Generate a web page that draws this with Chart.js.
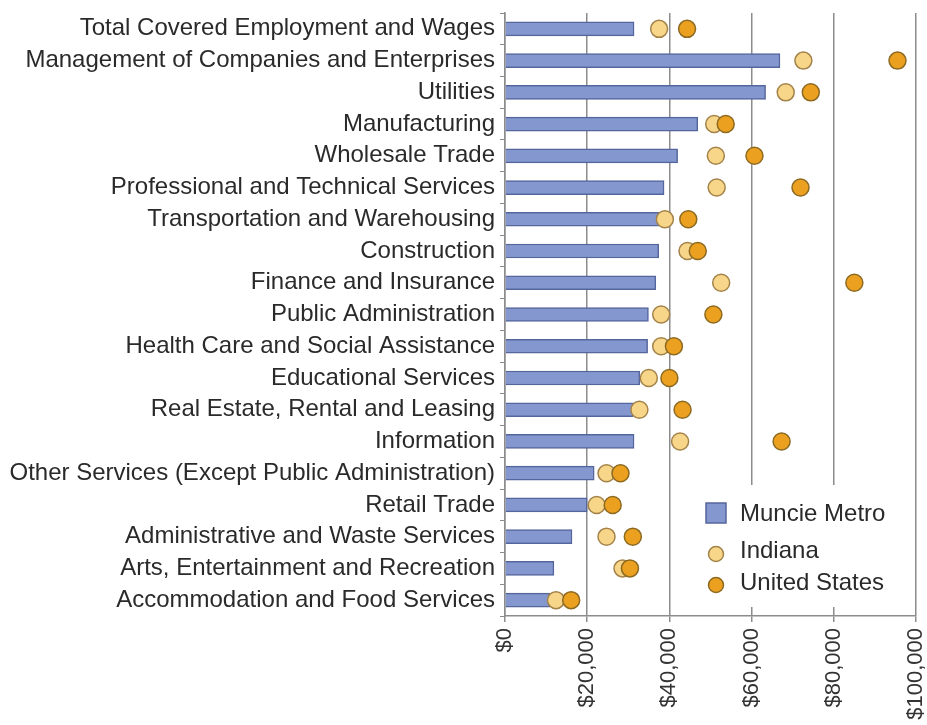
<!DOCTYPE html>
<html>
<head>
<meta charset="utf-8">
<script src="https://cdn.jsdelivr.net/npm/chart.js@4.4.1/dist/chart.umd.min.js"></script>
<style>
  html, body { margin: 0; padding: 0; background: #ffffff; }
  #wrap { position: relative; width: 927px; height: 725px; }
</style>
</head>
<body>
<div id="wrap"><canvas id="c"></canvas></div>
<script>
const categories = [
  "Total Covered Employment and Wages",
  "Management of Companies and Enterprises",
  "Utilities",
  "Manufacturing",
  "Wholesale Trade",
  "Professional and Technical Services",
  "Transportation and Warehousing",
  "Construction",
  "Finance and Insurance",
  "Public Administration",
  "Health Care and Social Assistance",
  "Educational Services",
  "Real Estate, Rental and Leasing",
  "Information",
  "Other Services (Except Public Administration)",
  "Retail Trade",
  "Administrative and Waste Services",
  "Arts, Entertainment and Recreation",
  "Accommodation and Food Services"
];
const muncieMetro = [31400, 66900, 63400, 46900, 42000, 38700, 37500, 37400, 36700, 34900, 34700, 32800, 31200, 31400, 21700, 20000, 16300, 11900, 10900];
const indiana     = [37500, 72600, 68300, 50900, 51300, 51500, 38900, 44400, 52600, 38000, 38000, 35000, 32700, 42600, 24700, 22300, 24700, 28600, 12400];
const unitedStates= [44300, 95500, 74400, 53700, 60700, 71900, 44600, 46900, 85000, 50700, 41100, 40000, 43200, 67300, 28100, 26200, 31100, 30400, 16100];
const seriesNames = ["Muncie Metro", "Indiana", "United States"];
const xTickLabels = ["$0", "$20,000", "$40,000", "$60,000", "$80,000", "$100,000"];

const FONT = '"Liberation Sans", Arial, Helvetica, sans-serif';
const BAR_FILL = '#8497cf', BAR_EDGE = '#55669c';
const IN_FILL = '#f8d689', IN_EDGE = '#a3834a';
const US_FILL = '#eba11f', US_EDGE = '#8d6a22';
const GRID = '#8c8c8c';
const TEXT = '#2a2a2a';

const legendPlugin = {
  id: 'boxLegend',
  afterDraw(chart) {
    const ctx = chart.ctx, a = chart.chartArea;
    const x0 = a.right - 234, y0 = a.bottom - 131;
    ctx.save();
    ctx.fillStyle = '#ffffff';
    ctx.fillRect(x0, y0, 228, 122);
    ctx.font = '24px ' + FONT;
    ctx.textBaseline = 'middle';
    ctx.textAlign = 'left';
    ctx.fillStyle = BAR_FILL; ctx.strokeStyle = BAR_EDGE; ctx.lineWidth = 1.5;
    ctx.fillRect(x0 + 24, y0 + 18, 20, 20);
    ctx.strokeRect(x0 + 24, y0 + 18, 20, 20);
    ctx.fillStyle = TEXT;
    ctx.fillText(seriesNames[0], x0 + 58, y0 + 29);
    ctx.beginPath(); ctx.arc(x0 + 34, y0 + 69, 7.5, 0, Math.PI * 2);
    ctx.fillStyle = IN_FILL; ctx.fill(); ctx.strokeStyle = IN_EDGE; ctx.stroke();
    ctx.fillStyle = TEXT;
    ctx.fillText(seriesNames[1], x0 + 58, y0 + 66);
    ctx.beginPath(); ctx.arc(x0 + 34, y0 + 100, 7.5, 0, Math.PI * 2);
    ctx.fillStyle = US_FILL; ctx.fill(); ctx.strokeStyle = US_EDGE; ctx.stroke();
    ctx.fillStyle = TEXT;
    ctx.fillText(seriesNames[2], x0 + 58, y0 + 98);
    ctx.restore();
  }
};

new Chart(document.getElementById('c'), {
  data: {
    labels: categories,
    datasets: [
      {
        type: 'bar', label: seriesNames[0], data: muncieMetro, indexAxis: 'y',
        backgroundColor: BAR_FILL, borderColor: BAR_EDGE, borderWidth: 1.5,
        barThickness: 14, order: 3
      },
      {
        type: 'line', label: seriesNames[1], data: indiana, indexAxis: 'y',
        showLine: false, pointStyle: 'circle', pointRadius: 8.5,
        pointBackgroundColor: IN_FILL, pointBorderColor: IN_EDGE, pointBorderWidth: 1.5,
        order: 2
      },
      {
        type: 'line', label: seriesNames[2], data: unitedStates, indexAxis: 'y',
        showLine: false, pointStyle: 'circle', pointRadius: 8.5,
        pointBackgroundColor: US_FILL, pointBorderColor: US_EDGE, pointBorderWidth: 1.5,
        order: 1
      }
    ]
  },
  options: {
    indexAxis: 'y',
    responsive: true,
    maintainAspectRatio: false,
    animation: false,
    layout: { padding: { top: 13, right: 11, left: 0, bottom: 0 } },
    plugins: { legend: { display: false }, tooltip: { enabled: false } },
    scales: {
      x: {
        type: 'linear', position: 'bottom', min: 0, max: 100000,
        afterFit(scale) { scale.height = 109; scale.paddingLeft = 0; scale.paddingRight = 0; },
        ticks: {
          stepSize: 20000, minRotation: 90, maxRotation: 90, padding: 6,
          color: '#333', font: { family: FONT, size: 22 },
          callback: (v) => xTickLabels[Math.round(v / 20000)]
        },
        grid: { color: GRID, lineWidth: 1.5, drawTicks: true, tickLength: 6, tickColor: GRID },
        border: { display: true, color: GRID, width: 1.5 }
      },
      y: {
        type: 'category', position: 'left', offset: true,
        afterFit(scale) { scale.width = 505; scale.paddingTop = 0; scale.paddingBottom = 0; },
        ticks: { color: TEXT, padding: 5, autoSkip: false, font: { family: FONT, size: 24 } },
        grid: { offset: true, drawOnChartArea: false, drawTicks: true, tickLength: 5, color: GRID, lineWidth: 1 },
        border: { display: true, color: GRID, width: 1.5 }
      }
    }
  },
  plugins: [legendPlugin]
});
</script>
</body>
</html>
